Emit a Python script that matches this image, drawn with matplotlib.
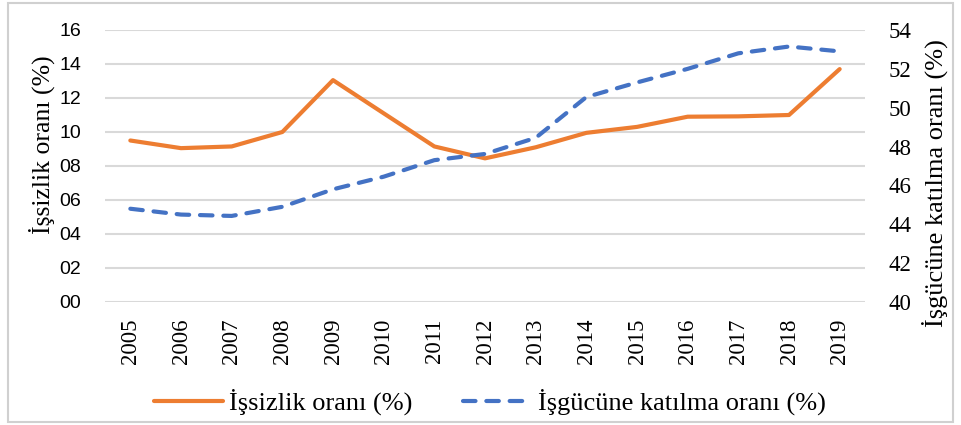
import matplotlib
matplotlib.use("Agg")
import matplotlib.pyplot as plt
from matplotlib.patches import Rectangle

years = ["2005", "2006", "2007", "2008", "2009", "2010", "2011", "2012",
         "2013", "2014", "2015", "2016", "2017", "2018", "2019"]
unemployment = [9.5, 9.05, 9.15, 10.0, 13.05, 11.1, 9.15, 8.45, 9.1, 9.95,
                10.3, 10.9, 10.92, 11.0, 13.7]
participation = [44.8, 44.5, 44.43, 44.9, 45.8, 46.45, 47.3, 47.62, 48.45,
                 50.55, 51.3, 52.0, 52.8, 53.15, 52.9]
left_ticks = [0, 2, 4, 6, 8, 10, 12, 14, 16]
right_ticks = [40, 42, 44, 46, 48, 50, 52, 54]

label_left = "İşsizlik oranı (%)"
label_right = "İşgücüne katılma oranı (%)"

fig = plt.figure(figsize=(9.61, 4.25), dpi=100)
fig.patches.append(Rectangle((8/961, 3/425), 945/961, 419/425, transform=fig.transFigure,
                             fill=False, edgecolor="#d0d0d0", linewidth=1.5))

ax = fig.add_axes([105/961, 1-302/425, 760/961, 272/425])
ax2 = ax.twinx()

x = list(range(len(years)))
l1, = ax.plot(x, unemployment, color="#ED7D31", linewidth=3,
              solid_capstyle="round", solid_joinstyle="round", label=label_left, zorder=3)
l2, = ax2.plot(x, participation, color="#4472C4", linewidth=3, linestyle=(0, (3.0, 2.6)),
               dash_capstyle="round", label=label_right, zorder=3)

ax.set_xlim(-0.5, len(years) - 0.5)
ax.set_ylim(0, 16)
ax2.set_ylim(40, 54)
ax.set_yticks(left_ticks)
ax.set_yticklabels([f"{t:02d}" for t in left_ticks], family="Liberation Sans", fontsize=14)
ax2.set_yticks(right_ticks)
ax2.set_yticklabels([str(t) for t in right_ticks], family="Liberation Serif", fontsize=16.5)
ax.set_xticks(x)
ax.set_xticklabels(years, rotation=90, family="Liberation Serif", fontsize=16.5)

ax.grid(axis="y", color="#d9d9d9", linewidth=1.5)
ax.set_axisbelow(True)
for a in (ax, ax2):
    for s in a.spines.values():
        s.set_visible(False)
    a.tick_params(length=0)
ax.tick_params(axis="y", pad=17)
ax2.tick_params(axis="y", pad=17)
ax.tick_params(axis="x", pad=12)

ax.set_ylabel(label_left, family="Liberation Serif", fontsize=18.5)
ax2.set_ylabel(label_right, family="Liberation Serif", fontsize=19)
ax.yaxis.set_label_coords(-0.066, 0.58)
ax2.yaxis.set_label_coords(1.075, 0.4375)

fig.legend(handles=[l1, l2], loc="center", bbox_to_anchor=(490/961, 1-402/425), ncol=2,
           frameon=False, prop={"family": "Liberation Serif", "size": 19},
           handlelength=2.6, columnspacing=1.9, handletextpad=0.25)

fig.savefig("out.png", dpi=100)
